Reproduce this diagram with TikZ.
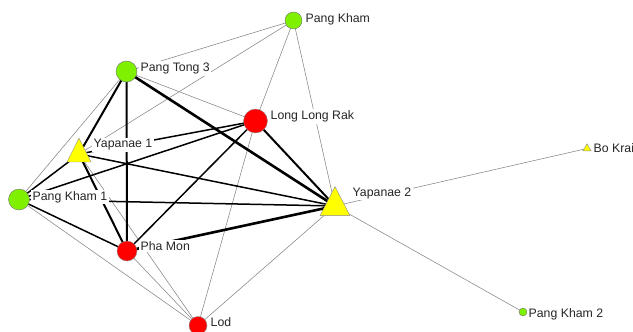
\documentclass[tikz,border=0pt]{standalone}
\usepackage{fontspec}
\setmainfont{Liberation Sans}
\usetikzlibrary{shapes.geometric,backgrounds}
\definecolor{ngreen}{HTML}{7FF000}
\definecolor{nred}{HTML}{FF0000}
\definecolor{nyellow}{HTML}{FFFF00}
\begin{document}
\begin{tikzpicture}[x=1pt,y=-1pt,
  gnode/.style={circle,inner sep=0pt,fill=ngreen,draw=black!55,line width=0.4pt},
  rnode/.style={circle,inner sep=0pt,fill=nred,draw=black!45,line width=0.4pt},
  ytri/.style={regular polygon,regular polygon sides=3,inner sep=0pt,fill=nyellow,draw=black!45,line width=0.4pt},
  lbl/.style={anchor=base west,fill=white,inner sep=1.5pt,text=black!85,font=\fontsize{12.3}{14}\selectfont},
  thinE/.style={draw=black!48,line width=0.55pt},
  medE/.style={draw=black,line width=1.5pt},
  boldE/.style={draw=black,line width=2pt},
  thickE/.style={draw=black,line width=2.6pt}]
\useasboundingbox (0,0) rectangle (633,332);

% nodes
\node[gnode,minimum size=17pt] (pk) at (293.5,20.5) {};
\node[gnode,minimum size=21pt] (pt3) at (126.5,71.5) {};
\node[rnode,minimum size=24pt] (llr) at (255.5,121) {};
\node[ytri,minimum size=27.7pt,yscale=1.15] (y1) at (79,154) {};
\node[gnode,minimum size=21pt] (pk1) at (19,199.5) {};
\node[ytri,minimum size=34.6pt,yscale=1.12] (y2) at (335,206) {};
\node[rnode,minimum size=20pt] (pm) at (127,251) {};
\node[rnode,minimum size=18pt] (lod) at (198,325.5) {};
\node[ytri,minimum size=9.5pt] (bk) at (587,148.5) {};
\node[gnode,minimum size=8pt] (pk2) at (523,312) {};

% edges
\begin{scope}[on background layer]
  \draw[thinE] (pk.center) -- (pt3.center);
  \draw[thinE] (pk.center) -- (y1.center);
  \draw[thinE] (pk.center) -- (llr.center);
  \draw[thinE] (pk.center) -- (y2.center);
  \draw[thinE] (pt3.center) -- (pk1.center);
  \draw[thinE] (pt3.center) -- (llr.center);
  \draw[thinE] (llr.center) -- (lod.center);
  \draw[thinE] (y1.center) -- (lod.center);
  \draw[thinE] (pk1.center) -- (lod.center);
  \draw[thinE] (pm.center) -- (lod.center);
  \draw[thinE] (y2.center) -- (lod.center);
  \draw[thinE] (y2.center) -- (bk.center);
  \draw[thinE] (y2.center) -- (pk2.center);
  \draw[thickE] (pt3.center) -- (y2.center);
  \draw[thickE] (pm.center) -- (y2.center);
  \draw[boldE] (pt3.center) -- (pm.center);
  \draw[boldE] (pt3.center) -- (y1.center);
  \draw[boldE] (llr.center) -- (y2.center);
  \draw[boldE] (y1.center) -- (pm.center);
  \draw[medE] (y1.center) -- (y2.center);
  \draw[medE] (pk1.center) -- (y2.center);
  \draw[medE] (llr.center) -- (y1.center);
  \draw[medE] (llr.center) -- (pk1.center);
  \draw[medE] (llr.center) -- (pm.center);
  \draw[medE] (y1.center) -- (pk1.center);
  \draw[medE] (pk1.center) -- (pm.center);
\end{scope}

% labels
\node[lbl] (lpk) at (304,22.3) {Pang Kham};
\node[lbl] (lpt3) at (139,71.5) {Pang Tong 3};
\node[lbl] (lllr) at (269,119.5) {Long Long Rak};
\node[lbl] (ly1) at (92,147.5) {Yapanae 1};
\node[lbl] (lpk1) at (31,200) {Pang Kham 1};
\node[lbl] (ly2) at (351,196) {Yapanae 2};
\node[lbl] (lpm) at (139,250) {Pha Mon};
\node[lbl] (llod) at (209,326) {Lod};
\node[lbl] (lbk) at (592,152) {Bo Krai};
\node[lbl] (lpk2) at (527,317) {Pang Kham 2};
\end{tikzpicture}
\end{document}
